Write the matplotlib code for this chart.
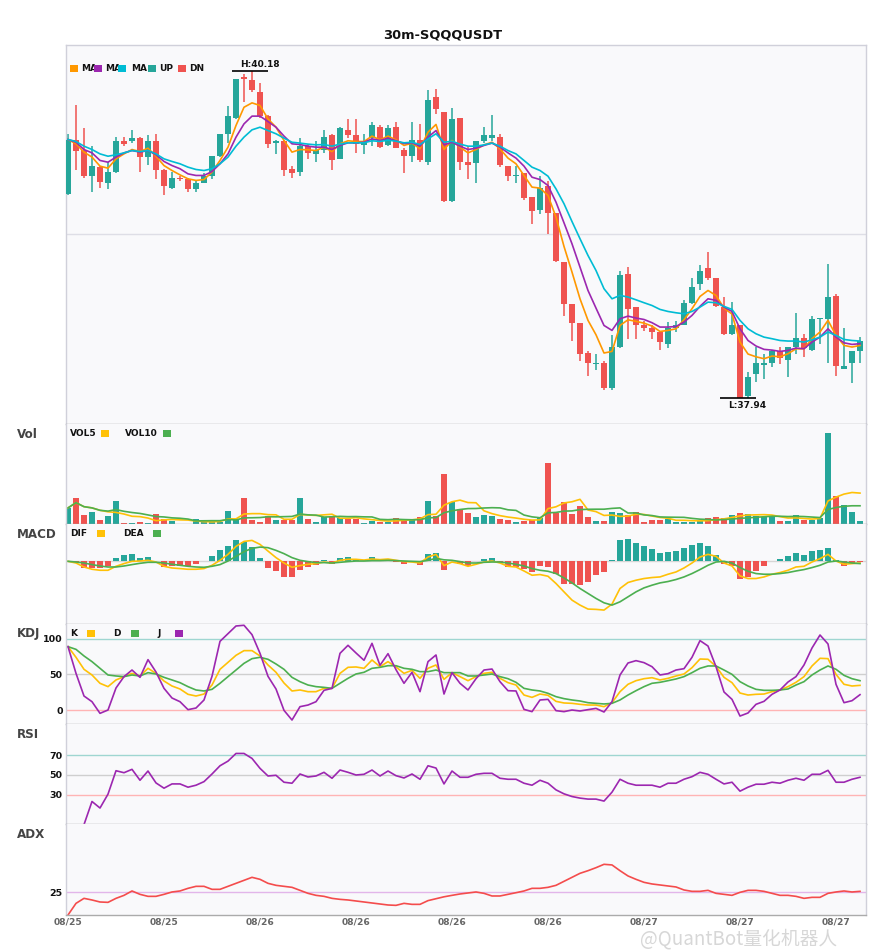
import numpy as np
import matplotlib
matplotlib.use("Agg")
import matplotlib.pyplot as plt
from matplotlib.patches import Rectangle

# ---------------- data ----------------
title = "30m-SQQQUSDT"
tick_pos = [0, 12, 24, 36, 48, 60, 72, 84, 96]
tick_labels = ["08/25", "08/25", "08/26", "08/26", "08/26", "08/26", "08/27", "08/27", "08/27"]

open_ = [39.34, 39.71, 39.64, 39.46, 39.52, 39.41, 39.49, 39.70, 39.70, 39.72,
         39.59, 39.70, 39.50, 39.38, 39.45, 39.44, 39.37, 39.41, 39.46, 39.60,
         39.75, 39.86, 40.14, 40.12, 40.04, 39.87, 39.69, 39.70, 39.51, 39.49,
         39.67, 39.61, 39.64, 39.74, 39.58, 39.78, 39.74, 39.675, 39.72, 39.80,
         39.675, 39.80, 39.64, 39.60, 39.71, 39.56, 40.00, 39.90, 39.29, 39.86,
         39.56, 39.55, 39.70, 39.72, 39.73, 39.53, 39.46, 39.48, 39.32, 39.23,
         39.39, 39.21, 38.87, 38.58, 38.45, 38.25, 38.17, 38.18, 38.01, 38.29,
         38.79, 38.56, 38.44, 38.42, 38.39, 38.31, 38.42, 38.44, 38.59, 38.72,
         38.83, 38.76, 38.56, 38.38, 38.44, 37.95, 38.10, 38.167, 38.18, 38.26,
         38.20, 38.29, 38.35, 38.27, 38.477, 38.48, 38.64, 38.14, 38.18, 38.26]
close = [39.71, 39.63, 39.46, 39.53, 39.42, 39.49, 39.70, 39.68, 39.72, 39.59,
         39.70, 39.50, 39.39, 39.45, 39.44, 39.37, 39.41, 39.46, 39.60, 39.75,
         39.87, 40.13, 40.13, 40.05, 39.87, 39.68, 39.70, 39.50, 39.48, 39.67,
         39.62, 39.64, 39.73, 39.57, 39.79, 39.74, 39.68, 39.70, 39.81, 39.66,
         39.79, 39.655, 39.60, 39.71, 39.57, 39.98, 39.92, 39.29, 39.85, 39.56,
         39.54, 39.70, 39.74, 39.74, 39.54, 39.46, 39.47, 39.31, 39.22, 39.38,
         39.21, 38.88, 38.58, 38.45, 38.24, 38.18, 38.18, 38.01, 38.29, 38.78,
         38.55, 38.44, 38.42, 38.39, 38.32, 38.42, 38.44, 38.59, 38.70, 38.81,
         38.76, 38.57, 38.38, 38.44, 37.94, 38.08, 38.18, 38.178, 38.26, 38.21,
         38.29, 38.35, 38.28, 38.48, 38.482, 38.63, 38.16, 38.16, 38.26, 38.33]
high = [39.75, 39.95, 39.79, 39.67, 39.53, 39.56, 39.73, 39.73, 39.78, 39.73,
        39.74, 39.75, 39.51, 39.49, 39.46, 39.45, 39.43, 39.48, 39.60, 39.75,
        39.94, 40.13, 40.16, 40.18, 40.10, 39.88, 39.71, 39.71, 39.53, 39.72,
        39.68, 39.70, 39.78, 39.75, 39.80, 39.85, 39.85, 39.75, 39.83, 39.81,
        39.81, 39.83, 39.65, 39.83, 39.82, 40.05, 40.06, 39.90, 39.93, 39.86,
        39.67, 39.70, 39.80, 39.88, 39.75, 39.53, 39.53, 39.48, 39.32, 39.46,
        39.43, 39.21, 38.87, 38.58, 38.45, 38.26, 38.24, 38.19, 38.37, 38.81,
        38.84, 38.56, 38.47, 38.44, 38.40, 38.46, 38.47, 38.61, 38.76, 38.85,
        38.94, 38.76, 38.63, 38.60, 38.44, 38.12, 38.29, 38.24, 38.27, 38.29,
        38.29, 38.52, 38.38, 38.50, 38.49, 38.86, 38.65, 38.42, 38.26, 38.36]
low = [39.33, 39.50, 39.45, 39.35, 39.38, 39.37, 39.48, 39.67, 39.69, 39.49,
       39.54, 39.44, 39.33, 39.37, 39.43, 39.35, 39.35, 39.41, 39.44, 39.59,
       39.69, 39.85, 39.97, 40.04, 39.86, 39.65, 39.61, 39.46, 39.45, 39.46,
       39.58, 39.56, 39.62, 39.50, 39.58, 39.72, 39.62, 39.61, 39.67, 39.65,
       39.67, 39.65, 39.48, 39.56, 39.56, 39.54, 39.89, 39.28, 39.28, 39.50,
       39.44, 39.41, 39.69, 39.70, 39.52, 39.43, 39.41, 39.30, 39.13, 39.20,
       39.06, 38.87, 38.50, 38.33, 38.19, 38.09, 38.13, 37.99, 37.99, 38.28,
       38.34, 38.34, 38.40, 38.34, 38.27, 38.28, 38.39, 38.44, 38.58, 38.68,
       38.75, 38.56, 38.37, 38.37, 37.94, 37.94, 38.05, 38.07, 38.15, 38.17,
       38.08, 38.24, 38.22, 38.26, 38.31, 38.18, 38.09, 38.14, 38.04, 38.18]
volume = [16.0, 26.3, 9.3, 12.3, 4.3, 8.3, 23.3, 1.3, 1.3, 2.3,
          1.3, 10.3, 5.3, 3.3, 0.3, 0.3, 5.3, 2.3, 2.3, 2.3,
          13.3, 5.3, 26.3, 4.3, 2.3, 8.3, 4.3, 4.3, 4.3, 26.3,
          5.3, 2.3, 7.3, 7.3, 6.3, 5.3, 5.3, 1.3, 3.3, 2.3,
          2.3, 6.3, 4.3, 5.3, 7.3, 23.3, 8.3, 49.3, 22.3, 15.3,
          11.3, 7.3, 9.3, 8.3, 5.3, 4.3, 2.3, 3.3, 4.3, 6.3,
          60.3, 11.3, 22.3, 10.3, 18.3, 7.3, 3.3, 3.3, 12.3, 11.3,
          9.3, 12.3, 2.3, 4.3, 4.3, 5.3, 2.3, 2.3, 2.3, 3.3,
          6.3, 7.3, 6.3, 9.3, 11.3, 10.3, 8.3, 7.3, 7.3, 3.3,
          3.3, 9.3, 4.3, 4.3, 6.3, 90.3, 28.3, 19.3, 12.3, 3.3]

ma5 = [39.712, 39.682, 39.625, 39.591, 39.529, 39.515, 39.579, 39.613, 39.643, 39.629,
       39.652, 39.597, 39.533, 39.499, 39.469, 39.442, 39.431, 39.437, 39.488, 39.568,
       39.659, 39.808, 39.933, 39.963, 39.945, 39.853, 39.796, 39.705, 39.625, 39.643,
       39.641, 39.636, 39.659, 39.629, 39.682, 39.703, 39.698, 39.698, 39.735, 39.709,
       39.735, 39.709, 39.671, 39.687, 39.648, 39.762, 39.815, 39.643, 39.705, 39.659,
       39.620, 39.643, 39.675, 39.693, 39.648, 39.584, 39.545, 39.465, 39.385, 39.378,
       39.328, 39.179, 38.978, 38.802, 38.619, 38.471, 38.372, 38.247, 38.258, 38.436,
       38.475, 38.464, 38.452, 38.432, 38.395, 38.402, 38.413, 38.475, 38.551, 38.635,
       38.676, 38.642, 38.555, 38.514, 38.322, 38.240, 38.221, 38.208, 38.226, 38.221,
       38.242, 38.276, 38.276, 38.345, 38.391, 38.471, 38.368, 38.299, 38.288, 38.299]
ma10 = [39.712, 39.693, 39.643, 39.620, 39.568, 39.556, 39.591, 39.620, 39.636, 39.625,
        39.636, 39.607, 39.561, 39.533, 39.511, 39.476, 39.465, 39.465, 39.492, 39.545,
        39.613, 39.728, 39.819, 39.872, 39.872, 39.835, 39.796, 39.735, 39.682, 39.677,
        39.666, 39.659, 39.659, 39.643, 39.671, 39.689, 39.689, 39.693, 39.716, 39.705,
        39.721, 39.703, 39.684, 39.689, 39.666, 39.728, 39.773, 39.675, 39.693, 39.666,
        39.643, 39.652, 39.671, 39.687, 39.659, 39.620, 39.584, 39.529, 39.453, 39.437,
        39.396, 39.282, 39.140, 38.996, 38.836, 38.676, 38.555, 38.436, 38.402, 38.482,
        38.500, 38.487, 38.477, 38.455, 38.425, 38.425, 38.429, 38.459, 38.505, 38.567,
        38.619, 38.608, 38.562, 38.532, 38.413, 38.333, 38.295, 38.272, 38.267, 38.258,
        38.265, 38.281, 38.276, 38.322, 38.356, 38.413, 38.356, 38.317, 38.306, 38.311]
ma20 = [39.712, 39.698, 39.666, 39.643, 39.613, 39.597, 39.607, 39.620, 39.636, 39.629,
        39.636, 39.613, 39.579, 39.561, 39.545, 39.522, 39.506, 39.499, 39.511, 39.545,
        39.591, 39.666, 39.728, 39.778, 39.796, 39.773, 39.751, 39.721, 39.693, 39.687,
        39.680, 39.675, 39.677, 39.666, 39.680, 39.689, 39.689, 39.689, 39.703, 39.698,
        39.707, 39.700, 39.689, 39.693, 39.677, 39.716, 39.751, 39.693, 39.700, 39.680,
        39.666, 39.666, 39.675, 39.687, 39.666, 39.636, 39.613, 39.568, 39.522, 39.499,
        39.460, 39.373, 39.271, 39.149, 39.031, 38.916, 38.813, 38.688, 38.619, 38.642,
        38.631, 38.612, 38.592, 38.573, 38.546, 38.532, 38.523, 38.516, 38.532, 38.562,
        38.596, 38.592, 38.567, 38.546, 38.471, 38.413, 38.379, 38.356, 38.345, 38.333,
        38.329, 38.329, 38.322, 38.338, 38.356, 38.391, 38.368, 38.340, 38.333, 38.329]

vol5 = [16.0, 21.2, 17.2, 16.0, 13.6, 12.1, 11.5, 9.9, 7.7, 7.3,
        5.9, 3.3, 4.1, 4.5, 4.1, 3.9, 2.9, 2.3, 2.1, 2.5,
        5.1, 5.1, 9.9, 10.3, 10.3, 9.3, 9.1, 4.7, 4.7, 9.5,
        8.9, 8.5, 9.1, 9.7, 5.7, 5.7, 6.3, 5.1, 4.3, 3.5,
        2.9, 3.1, 3.7, 4.1, 5.1, 9.3, 9.7, 18.7, 22.1, 23.7,
        21.3, 21.1, 13.1, 10.3, 8.3, 6.9, 5.9, 4.7, 3.9, 4.1,
        15.3, 17.1, 20.9, 22.1, 24.5, 13.9, 12.3, 8.5, 8.9, 7.5,
        7.9, 9.7, 9.5, 7.9, 6.5, 5.7, 3.7, 3.7, 3.3, 3.1,
        3.3, 4.3, 5.1, 6.5, 8.1, 8.9, 9.1, 9.3, 8.9, 7.3,
        5.9, 6.1, 5.5, 4.9, 5.5, 22.9, 26.7, 29.7, 31.3, 30.7]
vol10 = [16.0, 21.2, 17.2, 16.0, 13.6, 12.8, 14.3, 12.6, 11.4, 10.5,
         9.0, 7.4, 7.0, 6.1, 5.7, 4.9, 3.1, 3.2, 3.3, 3.3,
         4.5, 4.0, 6.1, 6.2, 6.4, 7.2, 7.1, 7.3, 7.5, 9.9,
         9.1, 8.8, 6.9, 7.2, 7.6, 7.3, 7.4, 7.1, 7.0, 4.6,
         4.3, 4.7, 4.4, 4.2, 4.3, 6.1, 6.4, 11.2, 13.1, 14.4,
         15.3, 15.4, 15.9, 16.2, 16.0, 14.1, 13.5, 8.9, 7.1, 6.2,
         11.1, 11.5, 12.8, 13.0, 14.3, 14.6, 14.7, 14.7, 15.5, 16.0,
         10.9, 11.0, 9.0, 8.4, 7.0, 6.8, 6.7, 6.6, 5.6, 4.8,
         4.5, 4.0, 4.4, 4.9, 5.6, 6.1, 6.7, 7.2, 7.7, 7.7,
         7.4, 7.6, 7.4, 6.9, 6.4, 14.4, 16.4, 17.6, 18.1, 18.1]

macd_hist = [0, -1, -6.3, -6.3, -6.3, -4.3, 3, 6, 7, 3,
             4, 0, -6, -4.3, -4.3, -4.3, -3, 0, 5, 11,
             15, 21, 19, 14, 3, -7, -10, -15.7, -15.7, -9,
             -5.7, -3.3, 1, -2.3, 3, 4, 2, 0, 4, 1,
             1, -1, -2.3, -0.5, -3.7, 7, 8, -9, 0, -3,
             -4.7, 0, 2, 3, -1, -5.7, -5.7, -8, -10.7, -4.7,
             -5.7, -12.7, -22.3, -23, -23.7, -21, -14, -10.7, 1, 21,
             22, 18, 15, 12, 8, 9, 10, 13, 16, 18,
             15, 6, -2.3, -4.7, -17.7, -15.7, -9.7, -4.7, 0, 2,
             5, 8, 6, 10, 11, 13, 1, -4.7, -2.7, -1]
dif = [0, -1.7, -5.7, -8, -9, -9, -5, -2.3, 0, 0.3,
       1, -0.7, -5, -6.7, -7.3, -8, -8, -7.3, -4, 1,
       7, 15, 20, 21, 17, 10.3, 3.7, -1.7, -6, -4.3,
       -3, -2.3, -0.7, -1.7, 1, 2, 2, 1.3, 2.3, 1.7,
       2.3, 1, -0.3, -0.7, -1.7, 4.3, 7, -4.3, -0.7, -2.3,
       -5, -3, -0.7, 0.3, -1.7, -5, -5.7, -9.7, -14, -13.3,
       -15, -22.3, -30.7, -39, -44, -48, -48.3, -49, -43, -27.3,
       -21.3, -19, -17.3, -16.3, -15.7, -13, -10.7, -6.7, -1.7, 4.3,
       7, 5, -1.7, -4.7, -14.7, -17.3, -17.3, -15.7, -13, -11.3,
       -9, -5.7, -5, -0.7, 2.7, 7, 0.3, -3, -2.3, -1.7]
dea = [0, -0.7, -1.7, -3.3, -4.7, -5.7, -5.7, -4.7, -3.3, -2,
       -1, -1, -1.7, -3, -4, -5, -5.7, -6, -5, -3.3,
       0.3, 5, 9.7, 13, 14.3, 13.7, 11, 7.7, 3.7, 1,
       -0.3, -1.3, -1.3, -1.7, -1, -0.3, 0.3, 0.3, 0.7, 0.7,
       1, 0.7, 0.3, 0, -0.3, 1, 3, 1.5, 1, -0.3,
       -1.7, -1.7, -1, -0.7, -0.7, -1.7, -3, -4.7, -7.3, -9,
       -10, -12.3, -16.7, -21.7, -27.3, -32.3, -37.3, -41.7, -44, -40.7,
       -35.7, -30.7, -26.7, -24, -21.7, -20.3, -18.3, -15.7, -12.3, -8.3,
       -4, -0.7, 0, -1.7, -6.3, -10, -12.3, -13, -13, -12.3,
       -11.3, -9.7, -8.3, -6.3, -4, -0.7, 0.3, -0.7, -1.7, -2.3]

kdj_k = [89.2, 74.2, 57.3, 49.3, 37.6, 32.9, 42.3, 47.0, 51.6, 47.9,
         58.7, 51.6, 40.8, 33.8, 29.6, 22.1, 19.7, 22.5, 35.2, 57.3,
         67.1, 77.0, 83.6, 83.6, 76.1, 63.4, 53.1, 38.0, 26.8, 28.2,
         25.8, 25.8, 30.5, 30.5, 51.6, 60.1, 60.6, 58.7, 70.4, 61.0,
         68.1, 60.6, 51.6, 55.9, 44.6, 58.7, 63.4, 43.2, 52.6, 47.0,
         41.3, 47.0, 51.6, 53.1, 44.6, 38.5, 35.2, 21.1, 17.8, 22.5,
         20.7, 12.2, 9.9, 9.4, 8.0, 7.0, 7.0, 4.7, 10.3, 25.8,
         36.2, 41.3, 44.1, 45.5, 42.3, 44.6, 47.9, 50.7, 59.6, 71.8,
         71.4, 61.5, 46.0, 38.5, 23.9, 21.1, 22.1, 22.5, 25.8, 28.2,
         32.9, 39.0, 47.0, 62.0, 72.8, 72.3, 50.2, 36.2, 33.8, 34.7]
kdj_d = [89.2, 85.4, 76.1, 68.1, 58.7, 49.3, 47.9, 47.0, 49.3, 47.9,
         52.6, 50.7, 46.0, 42.3, 38.5, 32.9, 28.2, 26.8, 29.1, 37.6,
         47.0, 56.3, 65.7, 72.3, 74.2, 71.4, 64.8, 57.3, 46.0, 39.9,
         35.2, 32.9, 31.9, 30.5, 37.6, 44.6, 50.7, 53.1, 58.7, 60.1,
         62.4, 62.4, 58.7, 57.3, 54.0, 54.0, 56.3, 52.6, 52.6, 52.6,
         47.9, 47.9, 49.3, 50.7, 47.0, 44.1, 39.0, 30.5, 28.2, 26.8,
         23.5, 18.8, 16.0, 14.1, 12.7, 10.3, 9.4, 8.5, 9.4, 14.1,
         21.1, 27.2, 32.9, 37.6, 39.0, 41.3, 43.7, 47.0, 52.6, 58.7,
         62.0, 62.0, 56.3, 50.2, 39.9, 33.8, 29.1, 27.7, 27.7, 28.2,
         29.6, 35.2, 39.9, 49.3, 56.3, 62.0, 57.3, 48.8, 44.1, 41.3]
kdj_j = [89.2, 51.6, 19.7, 11.7, -4.7, 0.0, 31.0, 47.0, 56.3, 46.0,
         70.9, 53.5, 30.5, 16.9, 11.7, 0.5, 2.8, 14.1, 47.4, 96.7,
         107.5, 118.3, 119.3, 106.1, 79.8, 47.4, 29.6, -0.5, -14.1, 4.7,
         7.0, 11.7, 27.7, 30.5, 79.8, 91.1, 80.3, 70.0, 93.9, 62.9,
         79.3, 56.8, 37.6, 53.1, 25.8, 68.1, 77.5, 22.5, 52.6, 37.6,
         28.2, 44.1, 56.3, 57.7, 39.9, 27.2, 26.8, 0.9, -2.3, 14.1,
         15.0, -0.9, -2.3, 0.0, -1.4, 0.5, 2.3, -2.8, 11.7, 49.3,
         66.2, 69.5, 66.7, 61.0, 49.3, 51.2, 56.3, 58.2, 74.2, 97.7,
         90.1, 61.0, 25.4, 15.0, -8.5, -4.2, 8.0, 12.2, 22.1, 28.2,
         39.4, 47.0, 63.4, 87.3, 105.6, 93.0, 36.2, 10.3, 13.1, 21.6]

nan = float("nan")
rsi = [nan, nan, 0.0, 23.3, 16.7, 30.7, 54.3, 52.3, 55.7, 44.7,
       54.0, 42.0, 36.7, 41.0, 41.0, 37.7, 39.7, 43.3, 51.0, 59.3,
       64.0, 71.7, 71.7, 66.7, 56.7, 49.0, 49.7, 42.7, 41.7, 51.0,
       48.0, 49.0, 52.7, 46.7, 55.0, 52.7, 50.0, 50.7, 55.0, 49.0,
       54.0, 49.3, 47.0, 51.0, 45.7, 59.3, 57.0, 41.0, 54.0, 47.7,
       47.7, 50.7, 51.7, 51.7, 46.7, 45.7, 45.7, 41.7, 39.7, 44.7,
       41.7, 35.0, 31.0, 28.3, 26.7, 25.7, 25.7, 23.7, 32.7, 45.7,
       41.7, 39.7, 39.7, 39.7, 37.7, 41.7, 41.7, 45.7, 48.3, 52.7,
       50.7, 45.7, 41.0, 42.7, 33.7, 37.7, 40.7, 40.7, 42.7, 41.7,
       44.7, 46.7, 44.7, 50.7, 50.7, 54.7, 42.7, 42.7, 45.7, 47.7]
adx = [0.0, 12.8, 18.3, 16.5, 14.3, 13.9, 18.3, 21.6, 26.4, 22.7,
       20.5, 20.5, 22.7, 25.3, 26.4, 29.3, 31.5, 31.5, 28.2, 28.2,
       31.5, 34.8, 38.1, 41.4, 39.2, 34.8, 32.6, 31.5, 30.4, 27.1,
       23.8, 21.6, 20.5, 18.3, 17.2, 16.5, 15.4, 14.3, 13.2, 12.1,
       11.0, 10.6, 12.8, 11.7, 11.7, 15.8, 17.9, 20.0, 21.6, 23.1,
       24.2, 25.3, 23.8, 20.9, 20.9, 22.7, 24.5, 26.4, 29.3, 29.3,
       30.4, 32.6, 37.0, 41.4, 45.8, 48.7, 52.0, 55.7, 55.0, 48.7,
       42.9, 39.2, 35.9, 34.1, 33.0, 31.9, 30.8, 27.5, 26.0, 26.0,
       27.1, 23.8, 22.7, 21.6, 24.9, 27.1, 27.1, 26.0, 23.8, 21.6,
       21.6, 20.5, 18.3, 19.4, 19.4, 23.8, 25.3, 26.4, 25.3, 26.0]

# ---------------- style ----------------
UP, DN = "#26a69a", "#ef5350"
C_MA5, C_MA10, C_MA20 = "#ff9800", "#9c27b0", "#00bcd4"
C_Y, C_G, C_P = "#ffc107", "#4caf50", "#9c27b0"
C_ADX = "#f44c4c"
BG = "#f9f9fb"

plt.rcParams['font.family'] = ['DejaVu Sans', 'Noto Sans CJK SC']

W, H = 885, 950
fig = plt.figure(figsize=(W / 100, H / 100), dpi=100)
fig.patch.set_facecolor("white")


def fx(px):
    return px / W


def fy(py):
    return 1 - py / H


LEFT, RIGHT = 66, 866


def add_panel(top, bottom):
    return fig.add_axes([fx(LEFT), fy(bottom), (RIGHT - LEFT) / W, (bottom - top) / H])


ax_main = add_panel(45, 424)
ax_vol = add_panel(424, 524)
ax_macd = add_panel(524, 624)
ax_kdj = add_panel(624, 724)
ax_rsi = add_panel(724, 824)
ax_adx = add_panel(824, 915)
panels = [ax_main, ax_vol, ax_macd, ax_kdj, ax_rsi, ax_adx]

x = np.arange(len(close))
o = np.array(open_)
c = np.array(close)
h = np.array(high)
l = np.array(low)
v = np.array(volume)
cols = np.where(c >= o, UP, DN)

for ax in panels:
    ax.set_facecolor(BG)
    ax.set_xlim(-0.25, len(x) - 0.25)
    ax.set_xticks([])
    ax.set_yticks([])
    ax.tick_params(axis="both", length=0)
    for s in ax.spines.values():
        s.set_color("#d0d0da")
        s.set_linewidth(1.0)
    ax.spines["bottom"].set_color("#ababab")
for ax in panels[1:]:
    ax.spines["top"].set_visible(False)

# ---------------- main candles ----------------
ax_main.set_ylim(37.76, 40.36)
ax_main.axhline(39.06, color="#dedee6", lw=1.0, zorder=0)
ax_main.vlines(x, l, h, colors=cols, linewidth=1.1, zorder=2)
body_h = np.maximum(np.abs(c - o), 0.007)
ax_main.bar(x, body_h, bottom=np.minimum(o, c), width=0.72, color=cols, linewidth=0, zorder=3)
ax_main.plot(x, ma5, color=C_MA5, lw=1.2, zorder=4)
ax_main.plot(x, ma10, color=C_MA10, lw=1.2, zorder=4)
ax_main.plot(x, ma20, color=C_MA20, lw=1.2, zorder=4)

ih = int(np.argmax(h))
il = int(np.argmin(l))
ax_main.hlines(h[ih], ih - 2.5, ih + 2, color="black", lw=1.2, zorder=5)
ax_main.annotate(f"H:{h[ih]:.2f}", xy=(ih - 1.5, h[ih]), xytext=(0, 1.5), textcoords="offset points",
                 ha="left", va="bottom", fontsize=6.5, fontweight="bold", color="#111111")
ax_main.hlines(l[il], il - 2.5, il + 2, color="black", lw=1.2, zorder=5)
ax_main.annotate(f"L:{l[il]:.2f}", xy=(il - 1.5, l[il]), xytext=(0, -2), textcoords="offset points",
                 ha="left", va="top", fontsize=6.5, fontweight="bold", color="#111111")

# ---------------- volume ----------------
ax_vol.bar(x, v, width=0.72, color=cols, linewidth=0)
ax_vol.plot(x, vol5, color=C_Y, lw=1.2)
ax_vol.plot(x, vol10, color=C_G, lw=1.2)
ax_vol.set_ylim(0, v.max() * 1.1)

# ---------------- MACD ----------------
hist = np.array(macd_hist)
ax_macd.axhline(0, color="#d6d6d6", lw=1.0, zorder=0)
ax_macd.bar(x, hist, width=0.72, color=np.where(hist >= 0, UP, DN), linewidth=0)
ax_macd.plot(x, dif, color=C_Y, lw=1.2)
ax_macd.plot(x, dea, color=C_G, lw=1.2)
ax_macd.set_ylim(-63, 37.5)

# ---------------- KDJ ----------------
ax_kdj.axhline(100, color="#9fd6d1", lw=1.0, zorder=0)
ax_kdj.axhline(50, color="#cfcfcf", lw=1.0, zorder=0)
ax_kdj.axhline(0, color="#ffb4b4", lw=1.0, zorder=0)
ax_kdj.plot(x, kdj_k, color=C_Y, lw=1.2)
ax_kdj.plot(x, kdj_d, color=C_G, lw=1.2)
ax_kdj.plot(x, kdj_j, color=C_P, lw=1.2)
ax_kdj.set_ylim(-19.7, 121.1)
ax_kdj.set_yticks([0, 50, 100])

# ---------------- RSI ----------------
ax_rsi.axhline(70, color="#9fd6d1", lw=1.0, zorder=0)
ax_rsi.axhline(50, color="#cfcfcf", lw=1.0, zorder=0)
ax_rsi.axhline(30, color="#ffb4b4", lw=1.0, zorder=0)
ax_rsi.plot(x, rsi, color=C_P, lw=1.2)
ax_rsi.set_ylim(0.6, 101.4)
ax_rsi.set_yticks([30, 50, 70])

# ---------------- ADX ----------------
ax_adx.axhline(25, color="#e2b6ea", lw=1.0, zorder=0)
ax_adx.plot(x, adx, color=C_ADX, lw=1.2)
ax_adx.set_ylim(0, 100)
ax_adx.set_yticks([25])
ax_adx.set_xticks(tick_pos)
ax_adx.set_xticklabels(tick_labels)

for ax in (ax_kdj, ax_rsi, ax_adx):
    ax.tick_params(axis="y", length=0, pad=2.5, labelsize=6.8, labelcolor="#111111")
    for t in ax.get_yticklabels():
        t.set_fontweight("bold")
ax_adx.tick_params(axis="x", length=0, pad=2, labelsize=6.6, labelcolor="#666666")
for t in ax_adx.get_xticklabels():
    t.set_fontweight("bold")

# ---------------- texts / legends ----------------
fig.text(0.5, fy(34.5), title, ha="center", va="center", fontsize=9.4, fontweight="bold", color="#111111")

for label, py in [("Vol", 434), ("MACD", 534), ("KDJ", 634), ("RSI", 735), ("ADX", 835)]:
    fig.text(fx(17), fy(py), label, ha="left", va="center", fontsize=8.6, fontweight="bold", color="#444444")


def legend_text(px, py, s):
    fig.text(fx(px), fy(py), s, ha="left", va="center", fontsize=6.5, fontweight="bold", color="#111111")


def legend_square(px, py, color):
    sz = 7.5
    fig.add_artist(Rectangle((fx(px), fy(py + sz / 2)), sz / W, sz / H, transform=fig.transFigure,
                             facecolor=color, edgecolor="none", zorder=6))


# main legend
for tx, s in [(81, "MA"), (105, "MA"), (131, "MA"), (159, "UP"), (189, "DN")]:
    legend_text(tx, 68.7, s)
for sx, colr in [(70, C_MA5), (94, C_MA10), (118, C_MA20), (148, UP), (178, DN)]:
    legend_square(sx, 68.7, colr)

# vol legend
legend_text(70, 433.7, "VOL5")
legend_square(101, 433.7, C_Y)
legend_text(125, 433.7, "VOL10")
legend_square(163, 433.7, C_G)

# macd legend
legend_text(70, 533.7, "DIF")
legend_square(97, 533.7, C_Y)
legend_text(123, 533.7, "DEA")
legend_square(153, 533.7, C_G)

# kdj legend
legend_text(70, 633.3, "K")
legend_square(87, 633.3, C_Y)
legend_text(113, 633.3, "D")
legend_square(131, 633.3, C_G)
legend_text(157, 633.3, "J")
legend_square(175, 633.3, C_P)

# watermark (kept just below the date labels so the two do not collide)
fig.text(fx(640), fy(939), "@QuantBot量化机器人", ha="left", va="center", fontsize=13.5,
         color="#bdbdbd", alpha=0.6, family=["Noto Sans CJK SC", "DejaVu Sans"], zorder=10)

fig.savefig("out.png", dpi=100, facecolor="white")
